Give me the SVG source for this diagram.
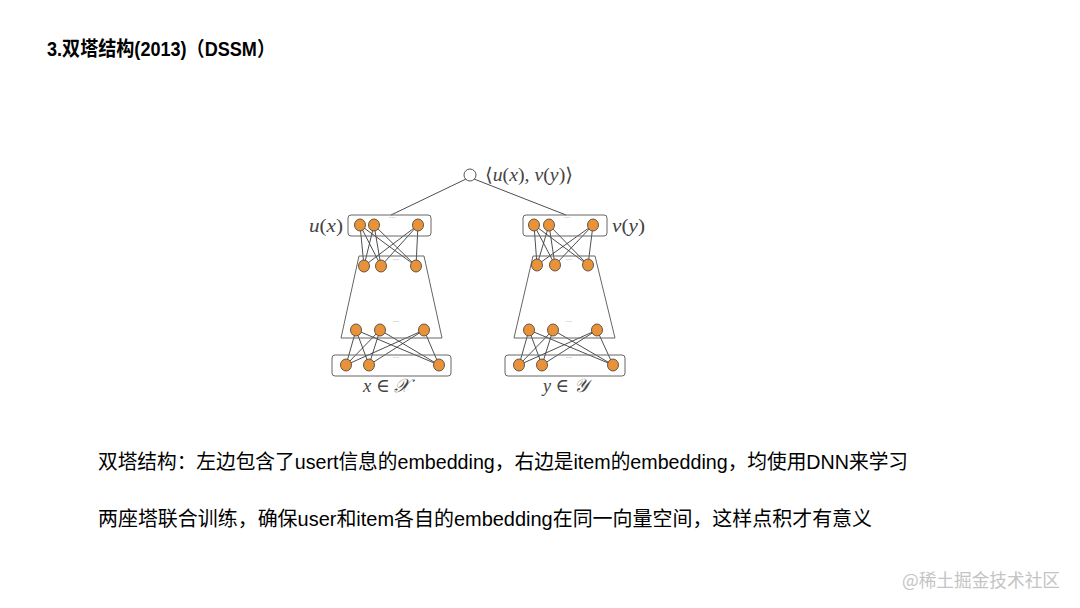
<svg xmlns="http://www.w3.org/2000/svg" width="1080" height="608" viewBox="0 0 1080 608">
<defs>
<style>
.bg{fill:#ffffff}
.title{font-family:"Liberation Sans","Noto Sans CJK SC",sans-serif;font-weight:bold;font-size:20px;fill:#000}
.body{font-family:"Liberation Sans","Noto Sans CJK SC",sans-serif;font-size:20px;fill:#000}
.wm{font-family:"Noto Sans CJK SC",sans-serif;font-size:18px;fill:#c4c4c4}
.math{font-family:"Liberation Serif","DejaVu Serif",serif;font-size:19px;fill:#444}
.it{font-style:italic}
.edge{stroke:#3a3a3a;stroke-width:0.9;fill:none}
.box{stroke:#666;stroke-width:1;fill:none}
.node{fill:#e8923a;stroke:#5a4a3a;stroke-width:0.9}
.dots{font-family:"DejaVu Sans",sans-serif;font-size:7px;fill:#999}
</style>
</defs>
<rect class="bg" x="0" y="0" width="1080" height="608"/>
<text class="title" x="47" y="56" textLength="228" lengthAdjust="spacingAndGlyphs">3.双塔结构(2013)（DSSM）</text>

<g id="connectors">
<line class="edge" x1="466" y1="179" x2="391" y2="215"/>
<line class="edge" x1="474" y1="179" x2="566" y2="215"/>
<line class="edge" x1="360" y1="225" x2="364" y2="266"/>
<line class="edge" x1="360" y1="225" x2="381" y2="266"/>
<line class="edge" x1="360" y1="225" x2="416" y2="266"/>
<line class="edge" x1="374" y1="225" x2="364" y2="266"/>
<line class="edge" x1="374" y1="225" x2="381" y2="266"/>
<line class="edge" x1="374" y1="225" x2="416" y2="266"/>
<line class="edge" x1="418" y1="225" x2="364" y2="266"/>
<line class="edge" x1="418" y1="225" x2="381" y2="266"/>
<line class="edge" x1="418" y1="225" x2="416" y2="266"/>
<line class="edge" x1="356" y1="330" x2="346" y2="365"/>
<line class="edge" x1="356" y1="330" x2="369" y2="365"/>
<line class="edge" x1="356" y1="330" x2="439" y2="365"/>
<line class="edge" x1="380" y1="330" x2="346" y2="365"/>
<line class="edge" x1="380" y1="330" x2="369" y2="365"/>
<line class="edge" x1="380" y1="330" x2="439" y2="365"/>
<line class="edge" x1="424" y1="330" x2="346" y2="365"/>
<line class="edge" x1="424" y1="330" x2="369" y2="365"/>
<line class="edge" x1="424" y1="330" x2="439" y2="365"/>
<line class="edge" x1="534" y1="225" x2="537" y2="265"/>
<line class="edge" x1="534" y1="225" x2="555" y2="265"/>
<line class="edge" x1="534" y1="225" x2="588" y2="265"/>
<line class="edge" x1="549" y1="225" x2="537" y2="265"/>
<line class="edge" x1="549" y1="225" x2="555" y2="265"/>
<line class="edge" x1="549" y1="225" x2="588" y2="265"/>
<line class="edge" x1="593" y1="225" x2="537" y2="265"/>
<line class="edge" x1="593" y1="225" x2="555" y2="265"/>
<line class="edge" x1="593" y1="225" x2="588" y2="265"/>
<line class="edge" x1="529" y1="330" x2="519" y2="365"/>
<line class="edge" x1="529" y1="330" x2="542" y2="365"/>
<line class="edge" x1="529" y1="330" x2="613" y2="365"/>
<line class="edge" x1="553" y1="330" x2="519" y2="365"/>
<line class="edge" x1="553" y1="330" x2="542" y2="365"/>
<line class="edge" x1="553" y1="330" x2="613" y2="365"/>
<line class="edge" x1="597" y1="330" x2="519" y2="365"/>
<line class="edge" x1="597" y1="330" x2="542" y2="365"/>
<line class="edge" x1="597" y1="330" x2="613" y2="365"/>
</g>

<g id="output">
<circle cx="470" cy="175" r="6" fill="#fff" stroke="#555" stroke-width="1"/>
<text class="math" x="485" y="181" textLength="88" lengthAdjust="spacingAndGlyphs">⟨<tspan class="it">u</tspan>(<tspan class="it">x</tspan>), <tspan class="it">v</tspan>(<tspan class="it">y</tspan>)⟩</text>
</g>

<g id="left-tower">
<rect class="box" x="348" y="215" width="83" height="21" rx="3"/>
<polygon class="box" points="359,256 424,256 442,338 341,338"/>
<rect class="box" x="332" y="355" width="119" height="21" rx="3"/>
<text class="dots" x="392" y="220" text-anchor="middle">···</text>
<text class="dots" x="396" y="262" text-anchor="middle">···</text>
<text class="dots" x="396" y="324" text-anchor="middle">···</text>
<text class="dots" x="396" y="360" text-anchor="middle">···</text>
<ellipse class="node" cx="360" cy="225" rx="5.5" ry="6"/>
<ellipse class="node" cx="374" cy="225" rx="5.5" ry="6"/>
<ellipse class="node" cx="418" cy="225" rx="5.5" ry="6"/>
<ellipse class="node" cx="364" cy="266" rx="5.5" ry="6"/>
<ellipse class="node" cx="381" cy="266" rx="5.5" ry="6"/>
<ellipse class="node" cx="416" cy="266" rx="5.5" ry="6"/>
<ellipse class="node" cx="356" cy="330" rx="5.5" ry="6"/>
<ellipse class="node" cx="380" cy="330" rx="5.5" ry="6"/>
<ellipse class="node" cx="424" cy="330" rx="5.5" ry="6"/>
<ellipse class="node" cx="346" cy="365" rx="5.5" ry="6"/>
<ellipse class="node" cx="369" cy="365" rx="5.5" ry="6"/>
<ellipse class="node" cx="439" cy="365" rx="5.5" ry="6"/>
<text class="math" x="309" y="232" textLength="34" lengthAdjust="spacingAndGlyphs"><tspan class="it">u</tspan>(<tspan class="it">x</tspan>)</text>
<text class="math" x="363" y="392" textLength="47" lengthAdjust="spacingAndGlyphs"><tspan class="it">x</tspan> ∈ <tspan class="it">𝒳</tspan></text>
</g>

<g id="right-tower">
<rect class="box" x="523" y="215" width="84" height="21" rx="3"/>
<polygon class="box" points="533,256 595,256 615,338 514,338"/>
<rect class="box" x="505" y="355" width="120" height="21" rx="3"/>
<text class="dots" x="567" y="220" text-anchor="middle">···</text>
<text class="dots" x="569" y="262" text-anchor="middle">···</text>
<text class="dots" x="569" y="324" text-anchor="middle">···</text>
<text class="dots" x="569" y="360" text-anchor="middle">···</text>
<ellipse class="node" cx="534" cy="225" rx="5.5" ry="6"/>
<ellipse class="node" cx="549" cy="225" rx="5.5" ry="6"/>
<ellipse class="node" cx="593" cy="225" rx="5.5" ry="6"/>
<ellipse class="node" cx="537" cy="265" rx="5.5" ry="6"/>
<ellipse class="node" cx="555" cy="265" rx="5.5" ry="6"/>
<ellipse class="node" cx="588" cy="265" rx="5.5" ry="6"/>
<ellipse class="node" cx="529" cy="330" rx="5.5" ry="6"/>
<ellipse class="node" cx="553" cy="330" rx="5.5" ry="6"/>
<ellipse class="node" cx="597" cy="330" rx="5.5" ry="6"/>
<ellipse class="node" cx="519" cy="365" rx="5.5" ry="6"/>
<ellipse class="node" cx="542" cy="365" rx="5.5" ry="6"/>
<ellipse class="node" cx="613" cy="365" rx="5.5" ry="6"/>
<text class="math" x="612" y="232" textLength="33" lengthAdjust="spacingAndGlyphs"><tspan class="it">v</tspan>(<tspan class="it">y</tspan>)</text>
<text class="math" x="543" y="392" textLength="45" lengthAdjust="spacingAndGlyphs"><tspan class="it">y</tspan> ∈ <tspan class="it">𝒴</tspan></text>
</g>

<text class="body" x="98" y="469" textLength="810" lengthAdjust="spacingAndGlyphs">双塔结构：左边包含了usert信息的embedding，右边是item的embedding，均使用DNN来学习</text>
<text class="body" x="98" y="526" textLength="774" lengthAdjust="spacingAndGlyphs">两座塔联合训练，确保user和item各自的embedding在同一向量空间，这样点积才有意义</text>
<text class="wm" x="902" y="587" textLength="158" lengthAdjust="spacingAndGlyphs">@稀土掘金技术社区</text>
</svg>
